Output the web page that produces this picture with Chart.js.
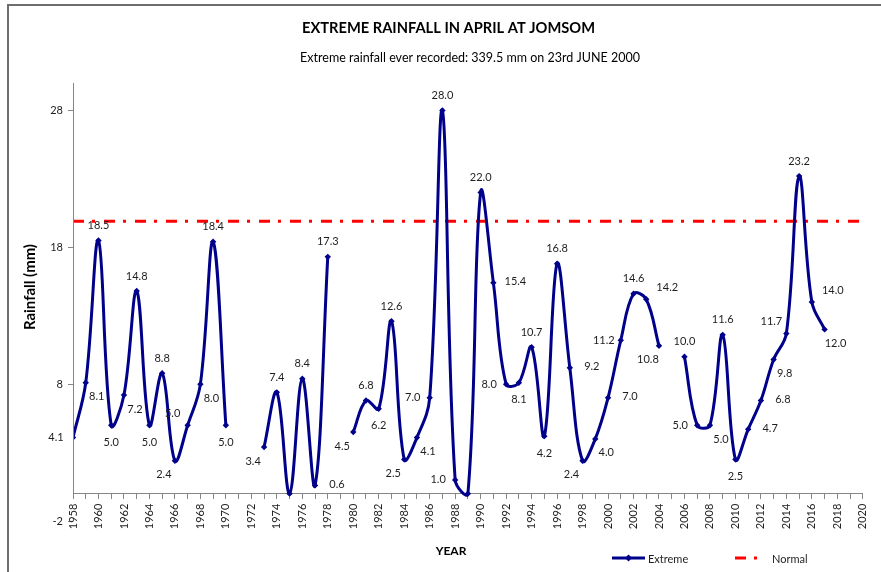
<!DOCTYPE html>
<html>
<head>
<meta charset="utf-8">
<script src="https://cdn.jsdelivr.net/npm/chart.js@4.4.1/dist/chart.umd.min.js"></script>
<style>
html,body{margin:0;padding:0;background:#fff;}
#wrap{width:881px;height:572px;position:relative;}
canvas{display:block;}
</style>
</head>
<body>
<div id="wrap"><canvas id="c" width="881" height="572"></canvas></div>
<script>
// ---------------- data ----------------
const titleText = 'EXTREME RAINFALL IN APRIL AT JOMSOM';
const subtitleText = 'Extreme rainfall ever recorded: 339.5 mm on 23rd JUNE 2000';
const yTitle = 'Rainfall (mm)';
const xTitle = 'YEAR';

const years = [1958,1959,1960,1961,1962,1963,1964,1965,1966,1967,1968,1969,1970,
  1971,1972,1973,1974,1975,1976,1977,1978,1979,
  1980,1981,1982,1983,1984,1985,1986,1987,1988,1989,1990,1991,1992,1993,1994,1995,1996,1997,1998,1999,
  2000,2001,2002,2003,2004,2005,2006,2007,2008,2009,2010,2011,2012,2013,2014,2015,2016,2017];

const extreme = [4.1,8.1,18.5,5.0,7.2,14.8,5.0,8.8,2.4,5.0,8.0,18.4,5.0,
  null,null,3.4,7.4,0,8.4,0.6,17.3,null,
  4.5,6.8,6.2,12.6,2.5,4.1,7.0,28.0,1.0,0,22.0,15.4,8.0,8.1,10.7,4.2,16.8,9.2,2.4,4.0,
  7.0,11.2,14.6,14.2,10.8,null,10.0,5.0,5.0,11.6,2.5,4.7,6.8,9.8,11.7,23.2,14.0,12.0];

// where each value label sits relative to its point (T/B/L/R and corners); null = no label
const labelSpot = ['L','BR','T','B','BR','T','B','T','BL','TL','BR','T','B',
  null,null,'BL','T',null,'T','R','T',null,
  'BL','T','B','T','BL','BR','L','T','L',null,'T','R','L','B','T','B','T','R','BL','BR',
  'R','L','T','TR','BL',null,'T','L','BR','T','B','R','R','BR','TL','T','TR','BR'];

const normalValue = 19.9;
const xRange = [1958, 2020];
const yRange = [-2, 30];
const yTicks = [-2, 8, 18, 28];

// ---------------- styling ----------------
const FONT = 'Lato, "Open Sans", "DejaVu Sans", sans-serif';
const NAVY = '#00008B';
const AXIS = '#868686';
const TXT = '#1e1e1e';

const spotOffset = {
  T:[0,-15], B:[0,17], L:[-17,0], R:[22,-1],
  TR:[21,-12], TL:[-15,-12], BR:[11,14], BL:[-11,14]
};

function fitFont(ctx, text, weight, targetW, base) {
  ctx.font = weight + ' ' + base + 'px ' + FONT;
  const w = ctx.measureText(text).width;
  const size = base * targetW / w;
  return weight + ' ' + size.toFixed(2) + 'px ' + FONT;
}

const decor = {
  id: 'decor',
  beforeDraw(chart) {
    const ctx = chart.ctx;
    ctx.save();
    ctx.fillStyle = '#fff';
    ctx.fillRect(0, 0, chart.width, chart.height);
    ctx.restore();
  },
  afterDraw(chart) {
    const ctx = chart.ctx;
    const ca = chart.chartArea;
    const ys = chart.scales.y;
    ctx.save();
    // outer frame
    ctx.strokeStyle = '#6e6e6e';
    ctx.lineWidth = 2;
    ctx.beginPath();
    ctx.moveTo(8, chart.height + 2);
    ctx.lineTo(8, 5);
    ctx.lineTo(chart.width + 2, 5);
    ctx.stroke();

    // vertical axis line from top down to the category axis (value 0)
    ctx.strokeStyle = AXIS;
    ctx.lineWidth = 1;
    ctx.beginPath();
    ctx.moveTo(Math.round(ca.left) + 0.5, ca.top);
    ctx.lineTo(Math.round(ca.left) + 0.5, ys.getPixelForValue(0));
    ctx.stroke();

    // titles
    ctx.fillStyle = '#000';
    ctx.textAlign = 'center';
    ctx.textBaseline = 'middle';
    ctx.font = fitFont(ctx, titleText, 'bold', 293, 14);
    ctx.fillText(titleText, 448.5, 28);
    ctx.font = fitFont(ctx, subtitleText, 'normal', 340, 12);
    ctx.fillText(subtitleText, 470, 58);

    ctx.font = 'bold 12px ' + FONT;
    ctx.fillText(xTitle, 451, 551);

    ctx.save();
    ctx.translate(30, 287);
    ctx.rotate(-Math.PI / 2);
    ctx.font = fitFont(ctx, yTitle, 'bold', 86, 12);
    ctx.fillText(yTitle, 0, 0);
    ctx.restore();

    // legend
    const ly = 558;
    ctx.strokeStyle = NAVY;
    ctx.lineWidth = 3;
    ctx.beginPath();
    ctx.moveTo(612, ly); ctx.lineTo(645, ly);
    ctx.stroke();
    ctx.fillStyle = NAVY;
    ctx.beginPath();
    ctx.moveTo(628.5, ly - 3.5); ctx.lineTo(632, ly); ctx.lineTo(628.5, ly + 3.5); ctx.lineTo(625, ly);
    ctx.closePath(); ctx.fill();
    ctx.strokeStyle = '#ff0000';
    ctx.beginPath();
    ctx.moveTo(735, ly); ctx.lineTo(746, ly);
    ctx.moveTo(754, ly); ctx.lineTo(757, ly);
    ctx.stroke();
    ctx.fillStyle = TXT;
    ctx.textAlign = 'left';
    ctx.font = '11px ' + FONT;
    ctx.fillText('Extreme', 648, ly + 1);
    ctx.fillText('Normal', 772, ly + 1);
    ctx.restore();
  },
  afterDatasetsDraw(chart) {
    const ctx = chart.ctx;
    const meta = chart.getDatasetMeta(0);
    ctx.save();
    ctx.font = '11px ' + FONT;
    ctx.fillStyle = TXT;
    ctx.textAlign = 'center';
    ctx.textBaseline = 'middle';
    meta.data.forEach((pt, i) => {
      const v = extreme[i];
      const spot = labelSpot[i];
      if (v === null || !spot) return;
      const o = spotOffset[spot];
      ctx.fillText(v.toFixed(1), pt.x + o[0], pt.y + o[1]);
    });
    ctx.restore();
  }
};

new Chart(document.getElementById('c'), {
  type: 'line',
  data: {
    datasets: [
      {
        label: 'Extreme',
        data: years.map((yr, i) => ({ x: yr, y: extreme[i] })),
        borderColor: NAVY,
        backgroundColor: NAVY,
        borderWidth: 3,
        tension: 0.38,
        spanGaps: false,
        pointStyle: 'rectRot',
        pointRadius: 3.2,
        pointBorderWidth: 0,
        order: 1
      },
      {
        label: 'Normal',
        data: [{ x: xRange[0], y: normalValue }, { x: xRange[1], y: normalValue }],
        borderColor: '#ff0000',
        borderWidth: 3,
        borderDash: [11, 8, 3, 9],
        pointRadius: 0,
        tension: 0,
        order: 2
      }
    ]
  },
  options: {
    responsive: false,
    animation: false,
    layout: { padding: { left: 0, top: 83, right: 11, bottom: 51 } },
    plugins: {
      legend: { display: false },
      tooltip: { enabled: false },
      title: { display: false }
    },
    scales: {
      x: {
        type: 'linear',
        min: xRange[0],
        max: xRange[1],
        position: { y: 0 },
        afterBuildTicks: s => {
          const t = [];
          for (let v = xRange[0]; v <= xRange[1]; v++) t.push({ value: v });
          s.ticks = t;
        },
        ticks: {
          autoSkip: false,
          maxRotation: 90,
          minRotation: 90,
          padding: 5,
          color: TXT,
          font: { family: FONT, size: 11 },
          callback: v => (v % 2 === 0 ? String(v) : '')
        },
        grid: { drawOnChartArea: false, drawTicks: true, tickLength: 5, color: AXIS },
        border: { display: true, color: AXIS }
      },
      y: {
        min: yRange[0],
        max: yRange[1],
        afterBuildTicks: s => { s.ticks = yTicks.map(v => ({ value: v })); },
        afterFit: s => { s.width = 73; },
        ticks: {
          padding: 5,
          color: TXT,
          font: { family: FONT, size: 11 }
        },
        grid: { drawOnChartArea: false, drawTicks: true, tickLength: 5, color: AXIS },
        border: { display: false }
      }
    }
  },
  plugins: [decor]
});
</script>
</body>
</html>
